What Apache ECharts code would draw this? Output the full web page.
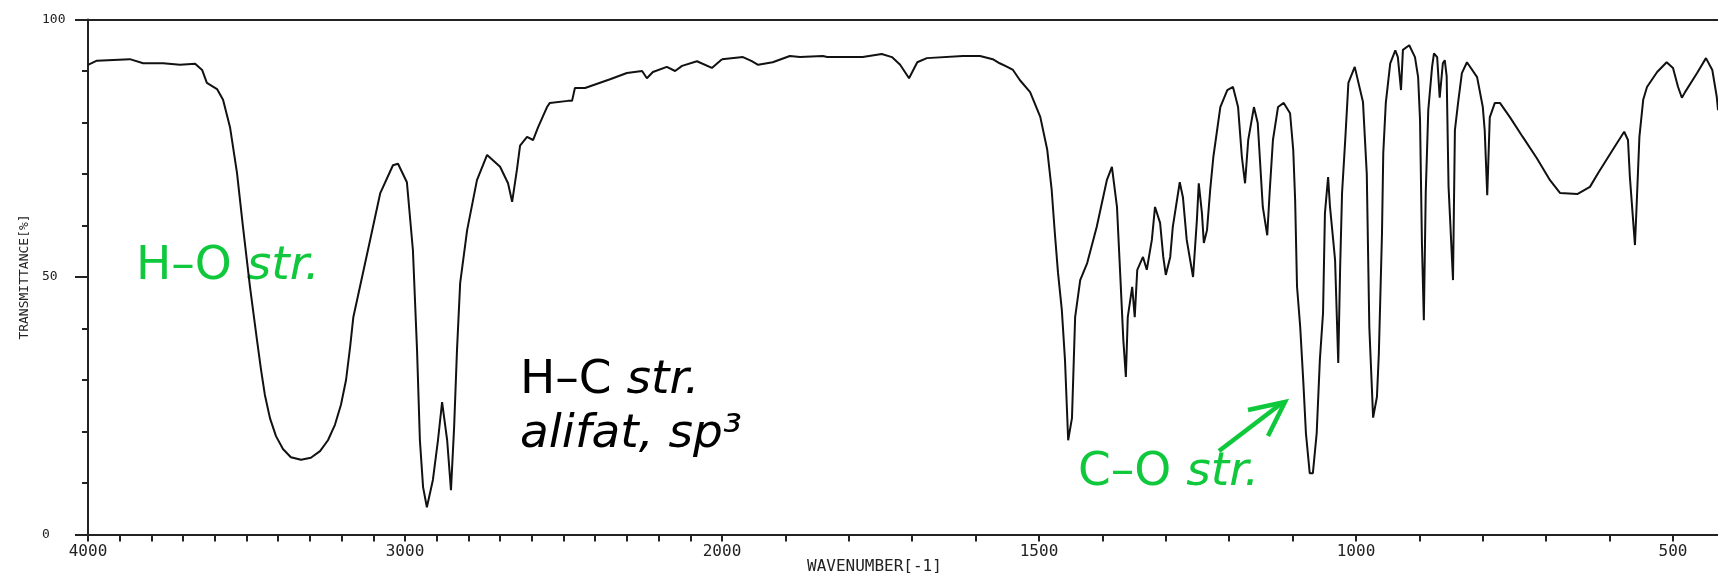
<!DOCTYPE html>
<html>
<head>
    <meta charset="utf-8">
    <title>IR spectrum</title>
    <script src="https://cdn.jsdelivr.net/npm/echarts/dist/echarts.min.js"></script>
    <style>
        html, body { margin: 0; padding: 0; background: #fff; }
        #chart { width: 1718px; height: 573px; }
    </style>
</head>
<body>
    <div id="chart"></div>
    <script type="text/javascript">
        // 4000-2000 cm-1 part of the trace (compressed scale)
        const wnHigh = [4000, 3972, 3868, 3826, 3763, 3710, 3662, 3640, 3625, 3593, 3574, 3552, 3530, 3511, 3489,
            3467, 3454, 3442, 3426, 3407, 3385, 3360, 3328, 3297, 3268, 3243, 3221, 3202, 3186, 3173,
            3163, 3110, 3078, 3038, 3022, 2994,
            2975, 2962, 2953, 2943, 2931, 2912, 2896, 2883, 2867, 2855, 2845, 2836, 2826, 2804, 2773,
            2741, 2700, 2675, 2662, 2647, 2637, 2615, 2596, 2580, 2552, 2543, 2486, 2473, 2464, 2432,
            2353, 2300, 2252, 2237, 2218, 2174, 2148, 2126, 2079, 2032, 2000];
        const tHigh = [91.2, 92.0, 92.3, 91.5, 91.5, 91.2, 91.4, 90.2, 87.7, 86.5, 84.4, 79.1, 70.2, 59.7, 48.1,
            37.8, 31.9, 27.1, 22.6, 19.1, 16.6, 15.0, 14.5, 14.9, 16.2, 18.3, 21.3, 25.2, 30.0, 36.5,
            42.2, 57.2, 66.3, 71.7, 72.0, 68.4,
            55.2, 35.8, 18.3, 9.2, 5.3, 10.6, 18.3, 25.7, 18.3, 8.6, 20.9, 35.8, 48.8, 59.1, 68.8,
            73.7, 71.4, 68.2, 64.6, 70.8, 75.5, 77.2, 76.6, 79.1, 83.0, 83.8, 84.2, 84.2, 86.7, 86.7,
            88.4, 89.6, 90.0, 88.6, 89.8, 90.8, 90.0, 91.0, 91.9, 90.6, 92.3];

        // 2000-429 cm-1 part of the trace (expanded scale)
        const wnLow = [2000, 1967, 1953, 1943, 1920, 1893, 1877, 1841, 1834, 1778, 1748, 1732, 1719, 1705, 1692,
            1677, 1620, 1593, 1573, 1562, 1550, 1541, 1530, 1514, 1498, 1487, 1480, 1475, 1470, 1464,
            1459, 1454, 1448, 1443, 1435, 1424, 1409, 1393, 1385, 1377, 1372, 1367, 1363, 1360, 1353,
            1349, 1345, 1336, 1330, 1322, 1317, 1309, 1304, 1300, 1293, 1289, 1278, 1273, 1267, 1257,
            1251, 1248, 1243, 1240, 1235, 1230, 1225, 1214, 1203, 1194, 1186, 1180, 1175, 1170, 1161,
            1155, 1147, 1140, 1136, 1131, 1123, 1114, 1104, 1099, 1096, 1093, 1088, 1083, 1079, 1073,
            1068, 1062, 1057, 1052, 1049, 1044, 1041, 1036, 1033, 1028, 1025, 1022, 1017, 1012, 1002,
            989, 983, 979, 973, 967, 964, 959, 957, 953, 946, 938, 934, 929, 926, 916,
            907, 902, 899, 896, 893, 890, 886, 880, 877, 872, 868, 863, 860, 857, 854,
            847, 844, 839, 833, 825, 809, 800, 797, 793, 789, 781, 773, 757, 737, 715,
            694, 678, 651, 631, 618, 595, 577, 571, 568, 560, 557, 553, 547, 541, 525,
            510, 500, 492, 486, 481, 462, 448, 438, 431, 429];
        const tLow = [92.3, 92.7, 91.9, 91.2, 91.7, 92.9, 92.7, 92.9, 92.7, 92.7, 93.3, 92.7, 91.2, 88.6, 91.7,
            92.5, 92.9, 92.9, 92.3, 91.5, 90.8, 90.2, 88.2, 85.9, 81.1, 74.7, 66.9, 58.5, 50.8, 43.6,
            33.9, 18.3, 22.6, 42.2, 49.4, 52.7, 59.7, 68.8, 71.4, 63.6, 50.8, 37.8, 30.6, 42.2, 48.1,
            42.2, 51.4, 53.9, 51.4, 57.2, 63.6, 60.5, 53.9, 50.4, 53.9, 59.7, 68.4, 65.5, 57.2, 50.0,
            61.0, 68.2, 62.4, 56.6, 59.1, 66.9, 73.3, 83.0, 86.3, 86.9, 83.0, 73.3, 68.2, 76.6, 83.0,
            79.9, 63.6, 58.1, 66.9, 76.6, 83.0, 83.8, 81.8, 74.7, 65.0, 48.1, 40.3, 29.4, 19.7, 11.9,
            11.9, 19.7, 33.9, 43.0, 62.4, 69.4, 63.6, 57.2, 53.3, 33.3, 51.9, 66.3, 76.6, 87.7, 90.8,
            84.0, 70.0, 40.3, 22.7, 26.7, 35.0, 58.5, 74.0, 83.8, 91.5, 94.0, 92.7, 86.3, 94.1, 95.0,
            92.7, 88.8, 80.5, 56.6, 41.6, 66.3, 82.4, 90.8, 93.4, 92.7, 84.8, 91.5, 92.1, 89.0, 67.5,
            49.4, 78.5, 83.8, 89.6, 91.7, 88.8, 83.0, 78.5, 65.9, 81.0, 83.8, 83.8, 81.0, 77.2, 73.1,
            68.8, 66.3, 66.1, 67.5, 70.2, 74.7, 78.2, 76.6, 69.4, 56.2, 65.0, 77.2, 84.4, 86.9, 89.8,
            91.7, 90.6, 86.9, 84.8, 85.9, 89.6, 92.5, 90.2, 85.0, 82.4];

        const xLabelsHigh = [4000, 3000, 2000];
        const xLabelsLow = [1500, 1000, 500];

        const ink = '#222';
        const green = '#0fc83c';
        const monoFont = 'DejaVu Sans Mono';
        const noteFont = 'DejaVu Sans';
        const plotHeight = 515;

        let chart = echarts.init(document.getElementById('chart'));

        // bottom axis: a tick every 100 cm-1, labels only on the listed values
        function bottomAxis(gridIndex, min, max, labels) {
            return {
                gridIndex: gridIndex,
                type: 'value',
                position: 'bottom',
                min: min,
                max: max,
                interval: 100,
                inverse: true,
                axisLine: {lineStyle: {color: ink, width: 2}},
                axisTick: {length: 7, lineStyle: {color: ink, width: 2}},
                splitLine: {show: false},
                axisLabel: {
                    margin: 9,
                    fontFamily: monoFont,
                    fontSize: 16,
                    color: ink,
                    showMinLabel: true,
                    showMaxLabel: true,
                    formatter: function (v) {
                        return labels.indexOf(v) >= 0 ? String(v) : '';
                    }
                }
            };
        }

        // line along the top (100 %)
        const topLine = {
            silent: true,
            symbol: 'none',
            label: {show: false},
            lineStyle: {color: ink, width: 2, type: 'solid'},
            data: [{yAxis: 100}]
        };

        // annotation text: plain part + italic part
        function note(x, y, plain, italic, colour) {
            return {
                type: 'text',
                x: x,
                y: y,
                style: {
                    text: '{a|' + plain + '}{b|' + italic + '}',
                    fontSize: 47,
                    verticalAlign: 'middle',
                    rich: {
                        a: {fontFamily: noteFont, fontSize: 47, fill: colour},
                        b: {fontFamily: noteFont, fontSize: 47, fontStyle: 'italic', fill: colour}
                    }
                }
            };
        }

        let xHigh = bottomAxis(0, 2000, 4000, xLabelsHigh);
        xHigh.name = 'WAVENUMBER[-1]';
        xHigh.nameLocation = 'start';
        xHigh.nameGap = 85;
        xHigh.nameTextStyle = {
            fontFamily: monoFont,
            fontSize: 16,
            color: ink,
            align: 'left',
            verticalAlign: 'top',
            padding: [24, 0, 0, 0]
        };

        let option = {
            animation: false,
            backgroundColor: '#fff',
            grid: [
                {left: 88, top: 19.5, width: 634, height: plotHeight, outerBoundsMode: 'none'},
                {left: 722, top: 19.5, width: 1268, height: plotHeight, outerBoundsMode: 'none'}
            ],
            xAxis: [
                xHigh,
                bottomAxis(1, 0, 2000, xLabelsLow)
            ],
            yAxis: [
                {
                    gridIndex: 0,
                    type: 'value',
                    min: 0,
                    max: 100,
                    interval: 50,
                    axisLine: {show: true, lineStyle: {color: ink, width: 2}},
                    axisTick: {show: true, length: 13, lineStyle: {color: ink, width: 2}},
                    minorTick: {show: true, splitNumber: 5, length: 6, lineStyle: {color: ink, width: 2}},
                    splitLine: {show: false},
                    axisLabel: {
                        align: 'left',
                        margin: 46,
                        fontFamily: monoFont,
                        fontSize: 13,
                        color: ink
                    },
                    name: 'TRANSMITTANCE[%]',
                    nameLocation: 'middle',
                    nameGap: 57,
                    nameRotate: 90,
                    nameTextStyle: {fontFamily: monoFont, fontSize: 13, color: ink}
                },
                {gridIndex: 1, type: 'value', min: 0, max: 100, show: false}
            ],
            series: [
                {
                    type: 'line',
                    xAxisIndex: 0,
                    yAxisIndex: 0,
                    showSymbol: false,
                    lineStyle: {color: '#111', width: 2},
                    markLine: topLine,
                    data: wnHigh.map((w, i) => [w, tHigh[i]])
                },
                {
                    type: 'line',
                    xAxisIndex: 1,
                    yAxisIndex: 1,
                    showSymbol: false,
                    lineStyle: {color: '#111', width: 2},
                    markLine: topLine,
                    data: wnLow.map((w, i) => [w, tLow[i]])
                }
            ],
            graphic: [
                note(136, 267, 'H\u2013O ', 'str.', green),
                note(520, 381, 'H\u2013C ', 'str.', '#000'),
                {
                    type: 'text',
                    x: 520,
                    y: 435,
                    style: {
                        text: 'alifat, sp\u00b3',
                        font: 'italic 47px "DejaVu Sans"',
                        fill: '#000',
                        verticalAlign: 'middle'
                    }
                },
                note(1078, 473, 'C\u2013O ', 'str.', green),
                {
                    type: 'line',
                    shape: {x1: 1219, y1: 451, x2: 1282, y2: 403},
                    style: {stroke: green, lineWidth: 4.5}
                },
                {
                    type: 'polyline',
                    shape: {points: [[1248, 410], [1285, 402], [1268, 436]]},
                    style: {stroke: green, lineWidth: 4.5, fill: null}
                }
            ]
        };

        chart.setOption(option);
    </script>
</body>
</html>
